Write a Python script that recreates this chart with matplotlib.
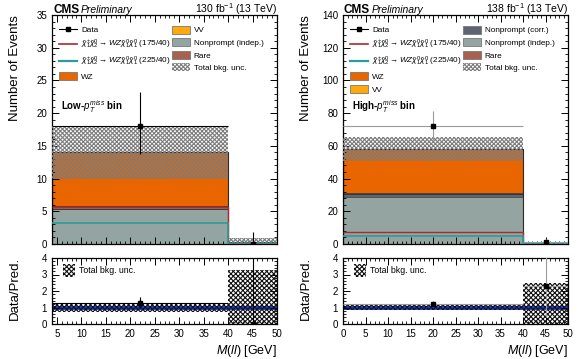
import numpy as np
import matplotlib
matplotlib.use('Agg')
import matplotlib.pyplot as plt
from matplotlib.patches import Patch
from matplotlib.lines import Line2D
from matplotlib.ticker import MultipleLocator

plt.rcParams['font.family'] = ['Liberation Sans', 'DejaVu Sans']
plt.rcParams['mathtext.fontset'] = 'custom'
plt.rcParams['mathtext.rm'] = 'Liberation Sans'
plt.rcParams['mathtext.it'] = 'Liberation Sans:italic'
plt.rcParams['mathtext.bf'] = 'Liberation Sans:bold'
plt.rcParams['hatch.linewidth'] = 0.8

# ---------------- data ----------------
left_edges = [4, 40, 50]
left_np_indep = [5.3, 0.18]
left_vv = [0.05, 0.0]
left_rare = [0.5, 0.02]
left_wz = [8.15, 0.10]
left_unc = [4.0, 0.68]
left_data = [18, 0]
left_data_lo = [4.2, 0.0]
left_data_hi = [5.3, 1.84]
left_sig175 = [5.7, 0.05]
left_sig225 = [3.2, 0.05]

right_edges = [0, 40, 50]
right_np_indep = [28.5, 0.25]
right_np_corr = [1.8, 0.05]
right_rare = [0.7, 0.03]
right_vv = [0.2, 0.01]
right_wz = [26.8, 0.09]
right_unc = [7.5, 0.64]
right_data = [72, 1]
right_data_lo = [8.5, 0.83]
right_data_hi = [9.5, 2.3]
right_sig175 = [7.3, 0.05]
right_sig225 = [4.9, 0.05]

lumi_left = "130 fb$^{-1}$ (13 TeV)"
lumi_right = "138 fb$^{-1}$ (13 TeV)"
bin_left = "Low-$p_{T}^{miss}$ bin"
bin_right = "High-$p_{T}^{miss}$ bin"

# ---------------- styles ----------------
C_WZ = '#e86500'
C_VV = '#ffa90e'
C_NPI = '#94a4a0'
C_NPC = '#5f6473'
C_RARE = '#a8614f'
C_S175 = '#b2262e'
C_S225 = '#2a9d98'
C_BLUE = '#1f3cd6'
C_UNC = '#7c7c7c'

SIG175 = r'$\tilde{\chi}^{\pm}_{1}\tilde{\chi}^{0}_{2}\rightarrow WZ\tilde{\chi}^{0}_{1}\tilde{\chi}^{0}_{1}$ (175/40)'
SIG225 = r'$\tilde{\chi}^{\pm}_{1}\tilde{\chi}^{0}_{2}\rightarrow WZ\tilde{\chi}^{0}_{1}\tilde{\chi}^{0}_{1}$ (225/40)'

fig = plt.figure(figsize=(5.8, 3.59), dpi=100)
W, H = 580.0, 359.0


def axrect(x0, x1, ytop, ybot):
    return [x0 / W, 1 - ybot / H, (x1 - x0) / W, (ybot - ytop) / H]


def style(ax, xmaj, xmin_, ymaj, ymin_):
    ax.tick_params(direction='in', top=True, right=True, which='both', labelsize=7)
    ax.tick_params(which='major', length=5, width=0.7)
    ax.tick_params(which='minor', length=2.5, width=0.6)
    ax.xaxis.set_major_locator(MultipleLocator(xmaj))
    ax.xaxis.set_minor_locator(MultipleLocator(xmin_))
    ax.yaxis.set_major_locator(MultipleLocator(ymaj))
    ax.yaxis.set_minor_locator(MultipleLocator(ymin_))
    for s in ax.spines.values():
        s.set_linewidth(0.9)


def panel(x0, x1, edges, comps, unc, data, dlo, dhi, s175, s225,
          ymax, ymaj, ymin_, lumi, bintxt, legend_order, errcol):
    edges = np.array(edges, float)
    ax = fig.add_axes(axrect(x0, x1, 15, 244))
    rx = fig.add_axes(axrect(x0, x1, 258, 324))
    base = np.zeros(len(edges) - 1)
    for name, vals, col in comps:
        top = base + np.array(vals, float)
        ax.stairs(top, edges, baseline=base, fill=True, facecolor=col,
                  edgecolor='none', zorder=1)
        ax.stairs(top, edges, baseline=None, color='#333333', lw=0.5, zorder=1.5)
        base = top
    tot = base
    ax.stairs(tot, edges, baseline=0, fill=False, edgecolor='#2a2a2a', lw=0.8, zorder=2)
    unc = np.array(unc, float)
    lo = np.clip(tot - unc, 0, None)
    hi = tot + unc
    ax.stairs(hi, edges, baseline=lo, fill=True, facecolor='none',
              edgecolor=C_UNC, hatch='xxxxxxxx', lw=0, zorder=3)
    ax.stairs(np.array(s175, float), edges, baseline=None, color=C_S175, lw=1.0, zorder=4)
    ax.stairs(np.array(s225, float), edges, baseline=None, color=C_S225, lw=1.2, zorder=4)
    centers = 0.5 * (edges[1:] + edges[:-1])
    halfw = 0.5 * (edges[1:] - edges[:-1])
    data = np.array(data, float)
    ax.errorbar(centers, data, xerr=halfw, yerr=[dlo, dhi], fmt='s', ms=2.5,
                color='black', ecolor=errcol, elinewidth=0.8, capsize=0, zorder=5)
    ax.set_xlim(edges[0], edges[-1])
    ax.set_ylim(0, ymax)
    style(ax, 5, 1, ymaj, ymin_)
    ax.tick_params(labelbottom=False)

    # legend
    handles = []
    labels = []
    for key in legend_order:
        if key == 'Data':
            handles.append(Line2D([], [], color='black', marker='s', ms=2.5, lw=0.8))
            labels.append('Data')
        elif key == 'S175':
            handles.append(Line2D([], [], color=C_S175, lw=1.2))
            labels.append(SIG175)
        elif key == 'S225':
            handles.append(Line2D([], [], color=C_S225, lw=1.6))
            labels.append(SIG225)
        elif key == 'Unc':
            handles.append(Patch(facecolor='none', edgecolor=C_UNC, hatch='xxxxxxxx', lw=0))
            labels.append('Total bkg. unc.')
        else:
            for name, vals, col in comps:
                if name == key:
                    handles.append(Patch(facecolor=col, edgecolor='#777777', lw=0.6))
                    labels.append(name)
    ax.legend(handles, labels, ncol=2, loc='upper left',
              bbox_to_anchor=(0.01, 0.975), frameon=False, fontsize=5.9,
              handlelength=2.2, handleheight=1.15, labelspacing=0.45,
              columnspacing=0.2, handletextpad=0.45, borderaxespad=0.2)
    ax.text(0.04, 0.6, bintxt, transform=ax.transAxes, fontsize=7,
            fontweight='bold', ha='left', va='center')

    # header
    fig.text((x0 + 1) / W, 1 - 13 / H, 'CMS', fontsize=8.5, fontweight='bold',
             ha='left', va='baseline')
    fig.text((x0 + 29) / W, 1 - 13 / H, 'Preliminary', fontsize=7.5,
             style='italic', ha='left', va='baseline')
    fig.text(x1 / W, 1 - 13 / H, lumi, fontsize=7.5, ha='right', va='baseline')

    # ratio
    rel = unc / tot
    rlo = np.clip(1 - rel, 0, None)
    rhi = 1 + rel
    rx.axhline(1, color=C_BLUE, lw=2.8, zorder=1)
    rx.stairs(rhi, edges, baseline=rlo, fill=True, facecolor='none',
              edgecolor='#111111', hatch='xxxxxxx', lw=0, zorder=2)
    ratio = data / tot
    rx.errorbar(centers, ratio, xerr=halfw,
                yerr=[np.array(dlo) / tot, np.array(dhi) / tot], fmt='s', ms=2.5,
                color='black', ecolor=errcol, elinewidth=0.8, capsize=0, zorder=5,
                clip_on=True)
    rx.set_xlim(edges[0], edges[-1])
    rx.set_ylim(0, 4)
    style(rx, 5, 1, 1, 0.2)
    rx.legend([Patch(facecolor='none', edgecolor='#111111', hatch='xxxxxxx', lw=0)],
              ['Total bkg. unc.'], loc='upper left', bbox_to_anchor=(0.03, 0.97),
              frameon=False, fontsize=6.3, handlelength=1.4, handleheight=1.8,
              handletextpad=0.4, borderaxespad=0.1)

    fig.text((x0 - 37) / W, 1 - 15 / H, 'Number of Events', rotation=90,
             fontsize=9.5, ha='center', va='top')
    fig.text((x0 - 37) / W, 1 - 257 / H, 'Data/Pred.', rotation=90,
             fontsize=9.5, ha='center', va='top')
    fig.text(x1 / W, 1 - 354 / H, r'$\it{M(ll)}$ [GeV]', fontsize=9,
             ha='right', va='baseline')
    return ax, rx


left_comps = [
    ('Nonprompt (indep.)', left_np_indep, C_NPI),
    ('VV', left_vv, C_VV),
    ('Rare', left_rare, C_RARE),
    ('WZ', left_wz, C_WZ),
]
panel(52, 277, left_edges, left_comps, left_unc, left_data, left_data_lo,
      left_data_hi, left_sig175, left_sig225, 35, 5, 1, lumi_left, bin_left,
      ['Data', 'S175', 'S225', 'WZ', 'VV', 'Nonprompt (indep.)', 'Rare', 'Unc'],
      'black')

right_comps = [
    ('Nonprompt (indep.)', right_np_indep, C_NPI),
    ('Nonprompt (corr.)', right_np_corr, C_NPC),
    ('VV', right_vv, C_VV),
    ('Rare', right_rare, C_RARE),
    ('WZ', right_wz, C_WZ),
]
panel(343, 568, right_edges, right_comps, right_unc, right_data, right_data_lo,
      right_data_hi, right_sig175, right_sig225, 140, 20, 4, lumi_right, bin_right,
      ['Data', 'S175', 'S225', 'WZ', 'VV', 'Nonprompt (corr.)', 'Nonprompt (indep.)',
       'Rare', 'Unc'],
      '#9a9a9a')

fig.savefig('out.png', dpi=100)
